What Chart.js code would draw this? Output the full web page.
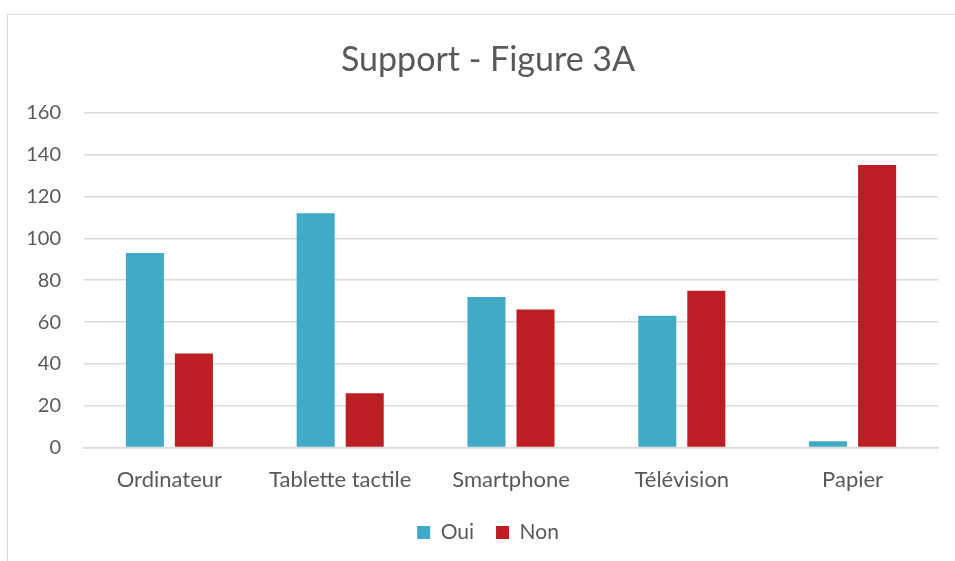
<!DOCTYPE html>
<html>
<head>
<meta charset="utf-8">
<script src="https://cdn.jsdelivr.net/npm/chart.js@4"></script>
<style>
  body { margin: 0; background: #fff; overflow: hidden; }
  #frame { position: absolute; left: 7px; top: 14px; width: 1000px; height: 600px; border: 1px solid #D9D9D9; box-sizing: border-box; }
  #wrap { position: absolute; left: 0; top: 0; width: 955px; height: 561px; }
</style>
</head>
<body>
<div id="frame"></div>
<div id="wrap"><canvas id="chart"></canvas></div>
<script>
// data
const categories = ['Ordinateur', 'Tablette tactile', 'Smartphone', 'Télévision', 'Papier'];
const ouiValues = [93, 112, 72, 63, 3];
const nonValues = [45, 26, 66, 75, 135];
const yTicks = [0, 20, 40, 60, 80, 100, 120, 140, 160];

const teal = '#41ABC7';
const red = '#BB1F24';
const grid = '#D9D9D9';
const textGray = '#595959';
const font = 'Lato, "Open Sans", sans-serif';

// title and legend in the original are centred a bit right of the canvas middle
const shiftHeaders = {
    id: 'shiftHeaders',
    afterLayout(chart) {
        if (chart.titleBlock) chart.titleBlock.left += 38;
        if (chart.legend) chart.legend.left += 38;
    }
};

new Chart(document.getElementById('chart'), {
    type: 'bar',
    data: {
        labels: categories,
        datasets: [
            { label: 'Oui', data: ouiValues, backgroundColor: teal },
            { label: 'Non', data: nonValues, backgroundColor: red }
        ]
    },
    plugins: [shiftHeaders],
    options: {
        responsive: true,
        maintainAspectRatio: false,
        animation: false,
        categoryPercentage: 0.574,
        barPercentage: 0.776,
        layout: { padding: { left: 0, right: 17, top: 0, bottom: 8 } },
        plugins: {
            title: {
                display: true,
                text: 'Support - Figure 3A',
                color: textGray,
                font: { family: font, size: 34, weight: 'normal' },
                padding: { top: 40, bottom: 32 }
            },
            legend: {
                position: 'bottom',
                labels: {
                    color: textGray,
                    font: { family: font, size: 21 },
                    boxWidth: 13,
                    boxHeight: 13,
                    padding: 22
                }
            },
            tooltip: { enabled: false }
        },
        scales: {
            x: {
                grid: { display: false },
                border: { color: grid, width: 1.5 },
                afterFit: (scale) => { scale.height -= 4; },
                ticks: { color: textGray, font: { family: font, size: 22 }, padding: 11 }
            },
            y: {
                min: 0,
                max: 160,
                afterFit: (scale) => { scale.width = 84; },
                afterBuildTicks: (scale) => { scale.ticks = yTicks.map(v => ({ value: v })); },
                grid: { color: grid, lineWidth: 1.5, drawTicks: false },
                border: { display: false },
                ticks: { color: textGray, font: { family: font, size: 20 }, padding: 23 }
            }
        }
    }
});
</script>
</body>
</html>
